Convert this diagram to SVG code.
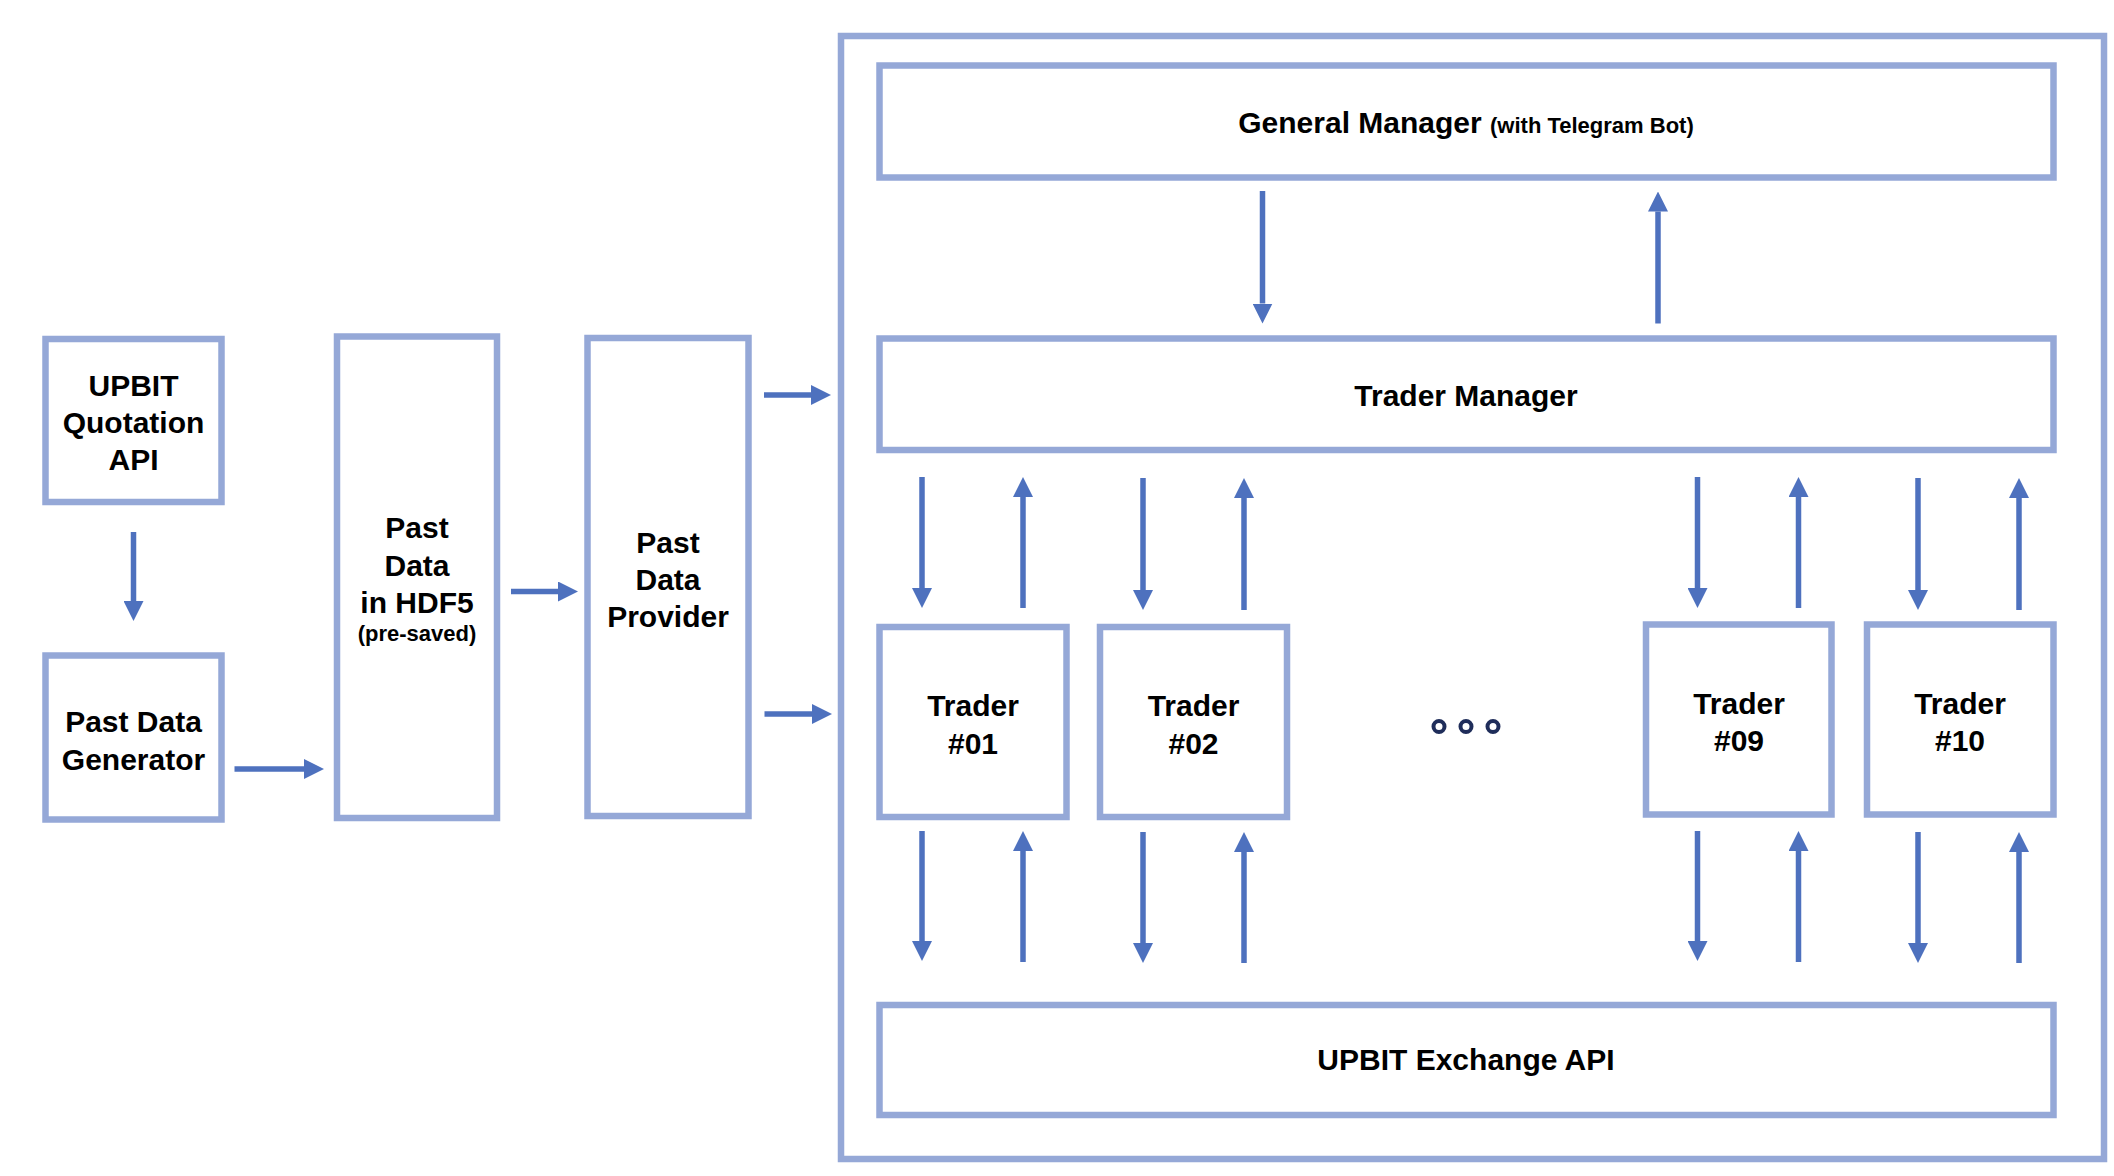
<svg xmlns="http://www.w3.org/2000/svg" width="2114" height="1176" viewBox="0 0 2114 1176">
<defs>
<style>
.box{fill:#ffffff;stroke:#95A8D7;stroke-width:6.5}
.frame{fill:none;stroke:#95A8D7;stroke-width:6.5}
.lbl{font-family:"Liberation Sans",Arial,sans-serif;font-weight:bold;font-size:30px;fill:#000000;text-anchor:middle}
.sm{font-size:22px}
.arr{stroke:#4E71BE;stroke-width:5.5;fill:none;marker-end:url(#ah)}
.dot{fill:none;stroke:#1F2D5A;stroke-width:4}
</style>
<marker id="ah" viewBox="0 0 20 20" markerWidth="20" markerHeight="20" refX="0" refY="10" orient="auto" markerUnits="userSpaceOnUse">
<path d="M0,0 L20,10 L0,20 z" fill="#4E71BE"/>
</marker>
</defs>
<rect width="2114" height="1176" fill="#ffffff"/>

<g id="container">
<rect class="frame" x="841" y="36" width="1263" height="1123"/>
</g>

<g id="upbit-quotation-api">
<rect class="box" x="45.5" y="339" width="176" height="163"/>
<text class="lbl" x="133.5" y="396">UPBIT</text>
<text class="lbl" x="133.5" y="433">Quotation</text>
<text class="lbl" x="133.5" y="469.5">API</text>
</g>

<g id="past-data-generator">
<rect class="box" x="45.5" y="655.5" width="176" height="164"/>
<text class="lbl" x="133.5" y="732">Past Data</text>
<text class="lbl" x="133.5" y="769.5">Generator</text>
</g>

<g id="past-data-hdf5">
<rect class="box" x="337" y="336.5" width="160" height="481.5"/>
<text class="lbl" x="417" y="538">Past</text>
<text class="lbl" x="417" y="576">Data</text>
<text class="lbl" x="417" y="612.5">in HDF5</text>
<text class="lbl sm" x="417" y="640.5">(pre-saved)</text>
</g>

<g id="past-data-provider">
<rect class="box" x="587.5" y="338" width="161" height="478"/>
<text class="lbl" x="668" y="553">Past</text>
<text class="lbl" x="668" y="590">Data</text>
<text class="lbl" x="668" y="627">Provider</text>
</g>

<g id="general-manager">
<rect class="box" x="879.5" y="65.5" width="1174" height="112"/>
<text class="lbl" x="1466" y="133">General Manager <tspan class="sm">(with Telegram Bot)</tspan></text>
</g>

<g id="trader-manager">
<rect class="box" x="879.5" y="338.5" width="1174" height="111.5"/>
<text class="lbl" x="1466" y="406">Trader Manager</text>
</g>

<g id="trader-01">
<rect class="box" x="879.5" y="627" width="187" height="190"/>
<text class="lbl" x="973" y="716">Trader</text>
<text class="lbl" x="973" y="753.5">#01</text>
</g>

<g id="trader-02">
<rect class="box" x="1100" y="627" width="187" height="190"/>
<text class="lbl" x="1193.5" y="716">Trader</text>
<text class="lbl" x="1193.5" y="753.5">#02</text>
</g>

<g id="ellipsis">
<circle class="dot" cx="1439" cy="726.5" r="5.5"/>
<circle class="dot" cx="1466" cy="726.5" r="5.5"/>
<circle class="dot" cx="1493" cy="726.5" r="5.5"/>
</g>

<g id="trader-09">
<rect class="box" x="1646" y="624.5" width="185.5" height="190"/>
<text class="lbl" x="1739" y="714">Trader</text>
<text class="lbl" x="1739" y="751">#09</text>
</g>

<g id="trader-10">
<rect class="box" x="1867" y="624.5" width="186.5" height="190"/>
<text class="lbl" x="1960" y="714">Trader</text>
<text class="lbl" x="1960" y="751">#10</text>
</g>

<g id="upbit-exchange-api">
<rect class="box" x="879.5" y="1005" width="1174" height="110"/>
<text class="lbl" x="1466" y="1070">UPBIT Exchange API</text>
</g>

<g id="connectors">
<line class="arr" x1="133.5" y1="532" x2="133.5" y2="601"/>
<line class="arr" x1="234.5" y1="769" x2="304" y2="769"/>
<line class="arr" x1="511" y1="591.5" x2="558" y2="591.5"/>
<line class="arr" x1="764" y1="395" x2="811" y2="395"/>
<line class="arr" x1="764.5" y1="714" x2="812" y2="714"/>
<line class="arr" x1="1262.5" y1="191" x2="1262.5" y2="303.5"/>
<line class="arr" x1="1658" y1="323.5" x2="1658" y2="211.5"/>

<line class="arr" x1="922" y1="477" x2="922" y2="588"/>
<line class="arr" x1="1023" y1="608" x2="1023" y2="497"/>
<line class="arr" x1="1143" y1="478" x2="1143" y2="590"/>
<line class="arr" x1="1244" y1="610" x2="1244" y2="498"/>
<line class="arr" x1="1697.5" y1="477" x2="1697.5" y2="588"/>
<line class="arr" x1="1798.5" y1="608" x2="1798.5" y2="497"/>
<line class="arr" x1="1918" y1="478" x2="1918" y2="590"/>
<line class="arr" x1="2019" y1="610" x2="2019" y2="498"/>

<line class="arr" x1="922" y1="831" x2="922" y2="941"/>
<line class="arr" x1="1023" y1="962" x2="1023" y2="851"/>
<line class="arr" x1="1143" y1="832" x2="1143" y2="943"/>
<line class="arr" x1="1244" y1="963" x2="1244" y2="852"/>
<line class="arr" x1="1697.5" y1="831" x2="1697.5" y2="941"/>
<line class="arr" x1="1798.5" y1="962" x2="1798.5" y2="851"/>
<line class="arr" x1="1918" y1="832" x2="1918" y2="943"/>
<line class="arr" x1="2019" y1="963" x2="2019" y2="852"/>
</g>
</svg>
